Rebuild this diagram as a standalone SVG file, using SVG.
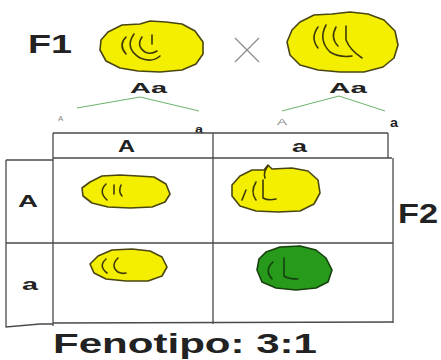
<svg xmlns="http://www.w3.org/2000/svg" width="441" height="360" viewBox="0 0 441 360">
  <style>
    .lbl { font-family: "Liberation Sans", Arial, sans-serif; font-weight: bold; fill: #222; }
    .thin { font-family: "Liberation Sans", Arial, sans-serif; fill: #888; }
    .pea { fill: #f4ee00; stroke: #4a4612; stroke-width: 1.6; stroke-linejoin: round; }
    .pea-green { fill: #279a1c; stroke: #17400e; stroke-width: 1.6; stroke-linejoin: round; }
    .mark { fill: none; stroke: #3e3a08; stroke-width: 1.6; stroke-linecap: round; }
    .mark-green { fill: none; stroke: #154010; stroke-width: 1.6; stroke-linecap: round; }
    .grid { stroke: #4a4a4a; stroke-width: 1.3; fill: none; }
    .branch { stroke: #6bb36b; stroke-width: 1; fill: none; }
  </style>

  <rect width="441" height="360" fill="#ffffff"/>

  <!-- parental generation -->
  <g id="label-f1">
    <text class="lbl" x="28" y="53" font-size="25" textLength="44" lengthAdjust="spacingAndGlyphs">F1</text>
  </g>

  <g id="pea-parent-left">
    <path class="pea" d="M108,32 L122,25 L140,24 L150,21 L166,22 L182,24 L195,31 L203,42 L203,54 L196,64 L182,70 L160,72 L138,71 L120,68 L106,61 L100,50 L101,40 Z"/>
    <path class="mark" d="M126,37 Q118,45 126,54"/>
    <path class="mark" d="M134,34 Q124,48 140,58 Q152,63 160,56"/>
    <path class="mark" d="M142,37 Q136,46 145,52 Q151,55 157,51"/>
    <path class="mark" d="M152,35 L152,44"/>
  </g>

  <g id="cross">
    <path d="M235,38 L259,62 M259,38 L235,62" stroke="#8a8a8a" stroke-width="1.2" fill="none"/>
  </g>

  <g id="pea-parent-right">
    <path class="pea" d="M300,22 L314,15 L332,14 L350,12 L368,14 L384,20 L395,31 L398,45 L394,58 L383,67 L364,72 L340,72 L318,70 L300,65 L290,55 L287,42 L292,30 Z"/>
    <path class="mark" d="M318,27 Q310,38 318,48"/>
    <path class="mark" d="M326,25 Q318,40 330,52 Q340,58 352,56"/>
    <path class="mark" d="M336,27 Q330,38 338,46"/>
    <path class="mark" d="M346,26 L346,40 Q350,50 362,58"/>
  </g>

  <g id="genotype-left">
    <text class="lbl" x="130" y="93" font-size="15" textLength="37" lengthAdjust="spacingAndGlyphs">Aa</text>
  </g>
  <g id="genotype-right">
    <text class="lbl" x="329" y="93" font-size="15" textLength="38" lengthAdjust="spacingAndGlyphs">Aa</text>
  </g>

  <!-- gametes -->
  <g id="gamete-left-A"><text class="thin" x="58" y="121" font-size="8">A</text></g>
  <g id="gamete-left-a"><text class="lbl" x="195" y="133" font-size="11" textLength="8" lengthAdjust="spacingAndGlyphs">a</text></g>
  <g id="gamete-right-A"><text class="thin" x="277" y="125" font-size="9" textLength="10" lengthAdjust="spacingAndGlyphs">A</text></g>
  <g id="gamete-right-a"><text class="lbl" x="390" y="127" font-size="12" textLength="8" lengthAdjust="spacingAndGlyphs">a</text></g>

  <g id="connectors">
    <path class="branch" d="M77,108 L140,97 L199,111"/>
    <path class="branch" d="M282,111 L339,96 L385,111"/>
  </g>

  <!-- Punnett square -->
  <g id="punnett-grid">
    <path class="grid" d="M53,133 L388,133 M388,133 L388,158"/>
    <path class="grid" d="M53,158 L392,158"/>
    <path class="grid" d="M53,133 L53,326"/>
    <path class="grid" d="M213,133 L213,324"/>
    <path class="grid" d="M393,158 L393,323"/>
    <path class="grid" d="M6,243 L393,243"/>
    <path class="grid" d="M53,323 L393,322"/>
    <path class="grid" d="M6,160 L53,160 M6,160 L6,327 L40,324 L53,324"/>
  </g>

  <g id="header-A"><text class="lbl" x="118" y="152" font-size="16" textLength="17" lengthAdjust="spacingAndGlyphs">A</text></g>
  <g id="header-a"><text class="lbl" x="292" y="152" font-size="17" textLength="15" lengthAdjust="spacingAndGlyphs">a</text></g>
  <g id="row-A"><text class="lbl" x="18" y="207" font-size="17" textLength="20" lengthAdjust="spacingAndGlyphs">A</text></g>
  <g id="row-a"><text class="lbl" x="22" y="290" font-size="17" textLength="16" lengthAdjust="spacingAndGlyphs">a</text></g>

  <g id="pea-AA">
    <path class="pea" d="M90,182 L102,176 L120,175 L138,176 L154,177 L166,184 L170,194 L165,202 L152,207 L130,208 L108,207 L92,203 L83,196 L82,188 Z"/>
    <path class="mark" d="M106,184 Q98,192 107,200"/>
    <path class="mark" d="M114,185 L114,194"/>
    <path class="mark" d="M121,185 Q118,192 122,196"/>
  </g>

  <g id="pea-Aa-top">
    <path class="pea" d="M240,176 L252,170 L264,170 L268,165 L272,169 L292,168 L308,171 L318,180 L320,193 L314,204 L300,211 L278,212 L256,211 L240,206 L232,196 L232,185 Z"/>
    <path class="mark" d="M268,166 Q263,172 265,178"/>
    <path class="mark" d="M246,190 L242,200"/>
    <path class="mark" d="M256,182 Q250,192 256,200"/>
    <path class="mark" d="M263,180 L263,198 Q268,201 276,199"/>
  </g>

  <g id="pea-Aa-left">
    <path class="pea" d="M98,256 L112,250 L132,249 L150,251 L162,257 L167,267 L162,276 L148,281 L126,281 L106,279 L94,273 L90,264 Z"/>
    <path class="mark" d="M106,259 Q98,266 107,273"/>
    <path class="mark" d="M118,258 Q110,266 118,272 Q122,274 126,273"/>
  </g>

  <g id="pea-aa">
    <path class="pea-green" d="M266,252 L280,247 L300,246 L316,250 L326,258 L332,270 L328,282 L316,288 L296,290 L276,288 L262,282 L257,270 L259,259 Z"/>
    <path class="mark-green" d="M273,262 Q264,270 272,279"/>
    <path class="mark-green" d="M284,258 L284,276 Q288,279 298,279"/>
  </g>

  <g id="label-f2">
    <text class="lbl" x="398" y="223" font-size="27" textLength="40" lengthAdjust="spacingAndGlyphs">F2</text>
  </g>

  <g id="phenotype">
    <text class="lbl" x="53" y="353" font-size="27" textLength="264" lengthAdjust="spacingAndGlyphs">Fenotipo: 3:1</text>
  </g>
</svg>
